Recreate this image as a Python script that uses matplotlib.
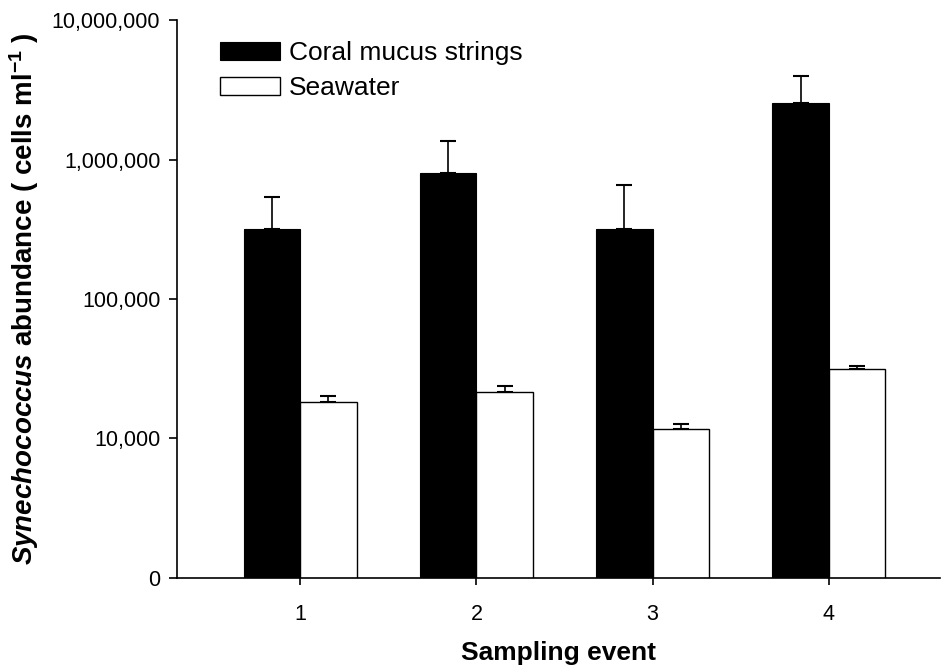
import numpy as np
import matplotlib
matplotlib.use('Agg')
import matplotlib.pyplot as plt
from matplotlib.ticker import FuncFormatter, FixedLocator

events = [1, 2, 3, 4]
mucus = [318000, 800000, 318000, 2540000]
mucus_err = [220000, 560000, 338000, 1430000]
seawater = [18300, 21500, 11700, 31300]
seawater_err = [1900, 2300, 950, 1600]
y_ticks = [1e3, 1e4, 1e5, 1e6, 1e7]

plt.rcParams['font.family'] = ['Liberation Sans', 'DejaVu Sans']
plt.rcParams['mathtext.fontset'] = 'custom'
plt.rcParams['mathtext.rm'] = 'Liberation Sans:bold'
plt.rcParams['mathtext.it'] = 'Liberation Sans:italic:bold'
plt.rcParams['mathtext.bf'] = 'Liberation Sans:bold'

fig = plt.figure(figsize=(9.44, 6.72), dpi=100)
ax = fig.add_axes([0.1875, 0.14, 0.808, 0.83])

x = np.array(events, dtype=float)
w = 0.32
ax.bar(x - w / 2, mucus, w, color='black', edgecolor='black', linewidth=0.8,
       label='Coral mucus strings', zorder=2)
ax.bar(x + w / 2, seawater, w, color='white', edgecolor='black', linewidth=1.0,
       label='Seawater', zorder=2)
# upper error bars only, drawn under the bars so the lower caps are hidden
err_kw = dict(fmt='none', ecolor='black', elinewidth=1.2, capsize=6, capthick=1.5, zorder=1)
ax.errorbar(x - w / 2, mucus, yerr=[np.zeros(4), mucus_err], **err_kw)
ax.errorbar(x + w / 2, seawater, yerr=[np.zeros(4), seawater_err], **err_kw)

ax.set_yscale('log')
ax.set_ylim(1e3, 1e7)
ax.set_xlim(0.30, 4.63)
ax.yaxis.set_major_locator(FixedLocator(y_ticks))
ax.yaxis.set_minor_locator(FixedLocator([]))
ax.yaxis.set_major_formatter(FuncFormatter(lambda v, p: '0' if v <= 1000 else f'{v:,.0f}'))
ax.set_xticks(events)
ax.set_xticklabels([str(e) for e in events])

for s in ['top', 'right']:
    ax.spines[s].set_visible(False)
for s in ['left', 'bottom']:
    ax.spines[s].set_linewidth(1.2)
    ax.spines[s].set_zorder(3)
ax.tick_params(axis='y', direction='out', length=6, width=1.2, labelsize=15.5, pad=6)
ax.tick_params(axis='x', direction='out', length=5, width=1.2, labelsize=15.5, pad=14)

ax.set_xlabel('Sampling event', fontsize=19, fontweight='bold', labelpad=11)
ax.set_ylabel(r'$\mathit{Synechococcus}$ abundance ( cells ml$^{-1}$ )',
              fontsize=20, fontweight='bold', labelpad=8)

ax.legend(loc='upper left', bbox_to_anchor=(0.057, 0.962), frameon=False, fontsize=19,
          handlelength=2.25, handleheight=0.7, handletextpad=0.35, labelspacing=0.42,
          borderpad=0, borderaxespad=0)

fig.savefig('out.png', dpi=100)
